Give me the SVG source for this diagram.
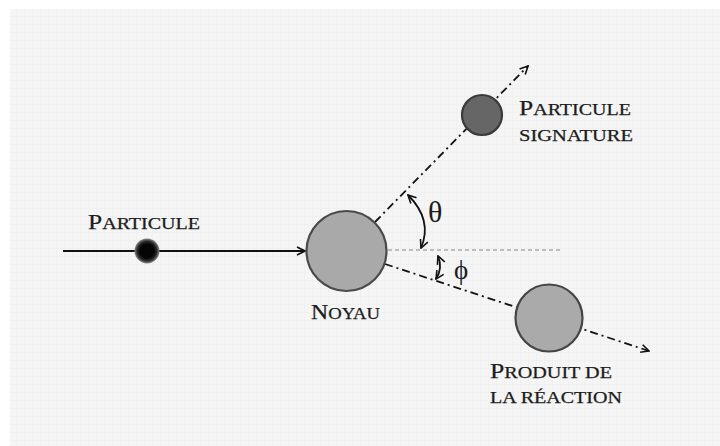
<svg xmlns="http://www.w3.org/2000/svg" width="720" height="446" viewBox="0 0 720 446">
  <defs>
    <pattern id="grid" width="8" height="8" patternUnits="userSpaceOnUse">
      <rect width="8" height="8" fill="#f5f5f5"/>
      <path d="M0,0.5 H8 M0.5,0 V8" stroke="#f0f0f0" stroke-width="1"/>
    </pattern>
    <marker id="arrow" viewBox="0 0 10 10" refX="9" refY="5" markerWidth="10" markerHeight="10" markerUnits="userSpaceOnUse" orient="auto-start-reverse">
      <path d="M1,1 L9,5 L1,9" fill="none" stroke="#111" stroke-width="1.6"/>
    </marker>
    <radialGradient id="glow">
      <stop offset="0.55" stop-color="#050505"/>
      <stop offset="0.78" stop-color="#2a2a2a"/>
      <stop offset="1" stop-color="#8a8a8a"/>
    </radialGradient>
  </defs>
  <style>
    .lbl { font-family: "Liberation Serif", "DejaVu Serif", serif; fill: #1c1c1c; stroke: #1c1c1c; stroke-width: 0.25; }
    .cap { font-size: 21px; }
    .sc { font-size: 16.5px; }
    .greek { font-family: "Liberation Serif", "DejaVu Serif", serif; fill: #1c1c1c; }
    .ray { fill: none; stroke: #111; stroke-width: 1.8; }
    .dashdot { stroke-dasharray: 8 4 2 4; }
    .ref { fill: none; stroke: #aaaaaa; stroke-width: 1.6; stroke-dasharray: 4 3; }
    .node { stroke-width: 2.2; }
  </style>

  <rect width="720" height="446" fill="#ffffff"/>
  <rect x="10" y="9" width="710" height="437" fill="url(#grid)"/>

  <g id="connectors">
    <path class="ray" d="M63,251 L305,251" marker-end="url(#arrow)"/>
    <path class="ray dashdot" d="M375,222 L528,66" marker-end="url(#arrow)"/>
    <path class="ray dashdot" d="M385,264 L649,351" marker-end="url(#arrow)"/>
    <path class="ref" d="M388,250 L563,250"/>
    <path class="ray" d="M408,195 Q433,220 421,248" stroke-width="1.6" marker-start="url(#arrow)" marker-end="url(#arrow)"/>
    <path class="ray" d="M438,256 Q443,268 436,279" stroke-width="1.6" marker-start="url(#arrow)" marker-end="url(#arrow)"/>
  </g>

  <g id="incident-particle">
    <circle cx="147" cy="251" r="12.5" fill="url(#glow)"/>
    <text class="lbl" x="88" y="229" textLength="112" lengthAdjust="spacingAndGlyphs"><tspan class="cap">P</tspan><tspan class="sc">ARTICULE</tspan></text>
  </g>

  <g id="noyau">
    <circle class="node" cx="346.5" cy="251" r="40" fill="#a9a9a9" stroke="#4a4a4a"/>
    <text class="lbl" x="311" y="319" textLength="69" lengthAdjust="spacingAndGlyphs"><tspan class="cap">N</tspan><tspan class="sc">OYAU</tspan></text>
  </g>

  <g id="particule-signature">
    <circle class="node" cx="482" cy="115" r="20" fill="#666666" stroke="#3a3a3a"/>
    <text class="lbl" x="519" y="115" textLength="112" lengthAdjust="spacingAndGlyphs"><tspan class="cap">P</tspan><tspan class="sc">ARTICULE</tspan></text>
    <text class="lbl sc" x="519" y="141" textLength="114" lengthAdjust="spacingAndGlyphs">SIGNATURE</text>
  </g>

  <g id="produit">
    <circle class="node" cx="549" cy="318" r="33.5" fill="#aaaaaa" stroke="#444444"/>
    <text class="lbl" x="490" y="378" textLength="122" lengthAdjust="spacingAndGlyphs"><tspan class="cap">P</tspan><tspan class="sc">RODUIT DE</tspan></text>
    <text class="lbl sc" x="490" y="403" textLength="132" lengthAdjust="spacingAndGlyphs">LA RÉACTION</text>
  </g>

  <g id="angles">
    <text class="greek" x="428" y="222" font-size="30">θ</text>
    <text class="greek" x="454" y="279" font-size="27">ϕ</text>
  </g>
</svg>
